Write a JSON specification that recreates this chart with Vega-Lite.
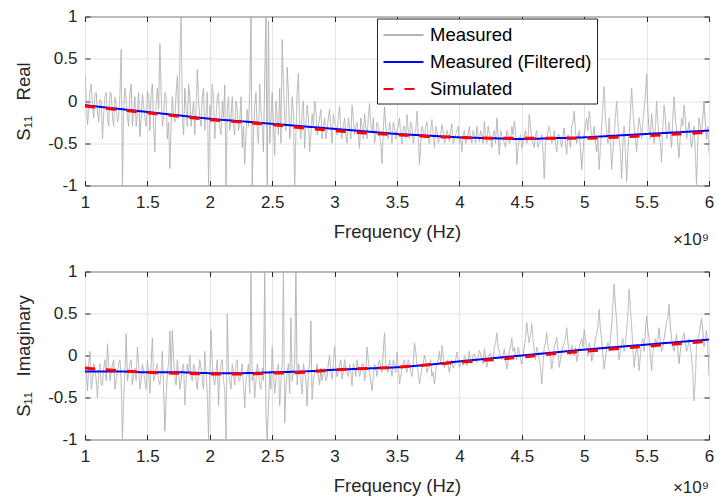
{
"$schema": "https://vega.github.io/schema/vega-lite/v6.json",
"padding": {"left": 14, "top": 6.5, "right": 2, "bottom": 0},
"background": "white",
"bounds": "flush",
"spacing": 86,
"config": {
  "font": "Liberation Sans",
  "view": {"stroke": "#262626", "strokeWidth": 1},
  "axis": {"grid": true, "gridColor": "#e3e3e3", "gridWidth": 1, "domain": false, "tickColor": "#262626", "tickSize": -5, "labelColor": "#262626", "labelFontSize": 17, "titleColor": "#262626", "titleFontSize": 18.5, "titleFontWeight": "normal", "labelFlush": false},
  "axisX": {"labelPadding": 14, "titlePadding": 12},
  "axisY": {"labelPadding": 13, "titlePadding": 14}
},
"resolve": {"scale": {"color": "independent", "strokeDash": "independent"}},
"datasets": {
"reM": [
{"f":1,"Measured":0.3},{"f":1.02,"Measured":-0.28},{"f":1.04,"Measured":0.12},{"f":1.06,"Measured":-0.05},{"f":1.08,"Measured":0.08},
{"f":1.1,"Measured":-0.12},{"f":1.12,"Measured":0.02},{"f":1.14,"Measured":-0.45},{"f":1.16,"Measured":0.05},{"f":1.18,"Measured":-0.2},
{"f":1.2,"Measured":0.1},{"f":1.22,"Measured":-0.18},{"f":1.24,"Measured":0.05},{"f":1.26,"Measured":-0.25},{"f":1.28,"Measured":0.08},
{"f":1.29,"Measured":0.61},{"f":1.3,"Measured":-1},{"f":1.32,"Measured":0.15},{"f":1.34,"Measured":-0.2},{"f":1.36,"Measured":0.1},{"f":1.38,"Measured":-0.3},
{"f":1.4,"Measured":0.05},{"f":1.42,"Measured":-0.15},{"f":1.44,"Measured":-0.42},{"f":1.46,"Measured":0.08},{"f":1.48,"Measured":-0.2},
{"f":1.5,"Measured":0.12},{"f":1.52,"Measured":-0.35},{"f":1.54,"Measured":0.2},{"f":1.56,"Measured":-0.6},{"f":1.58,"Measured":0.15},
{"f":1.6,"Measured":0.68},{"f":1.62,"Measured":-0.3},{"f":1.64,"Measured":0.1},{"f":1.66,"Measured":-0.45},{"f":1.68,"Measured":-0.8},
{"f":1.7,"Measured":0.05},{"f":1.72,"Measured":-0.25},{"f":1.74,"Measured":0.3},{"f":1.76,"Measured":0.5},{"f":1.77,"Measured":1},{"f":1.78,"Measured":-0.2},
{"f":1.8,"Measured":0.15},{"f":1.82,"Measured":-0.3},{"f":1.84,"Measured":0.05},{"f":1.86,"Measured":-0.15},{"f":1.88,"Measured":-0.4},
{"f":1.9,"Measured":0.37},{"f":1.92,"Measured":-0.2},{"f":1.94,"Measured":0.05},{"f":1.96,"Measured":-0.35},{"f":1.98,"Measured":0.1},{"f":1.99,"Measured":-1},
{"f":2,"Measured":-0.05},{"f":2.02,"Measured":0.2},{"f":2.04,"Measured":-0.45},{"f":2.06,"Measured":0.05},{"f":2.08,"Measured":-0.3},
{"f":2.1,"Measured":0},{"f":2.12,"Measured":0.19},{"f":2.13,"Measured":-1},{"f":2.14,"Measured":-0.1},{"f":2.16,"Measured":-0.35},{"f":2.18,"Measured":0.05},
{"f":2.2,"Measured":-0.4},{"f":2.22,"Measured":-0.1},{"f":2.24,"Measured":-0.25},{"f":2.26,"Measured":-0.55},{"f":2.28,"Measured":-0.75},
{"f":2.3,"Measured":-0.1},{"f":2.32,"Measured":0.1},{"f":2.33,"Measured":1},{"f":2.34,"Measured":-1},{"f":2.36,"Measured":-0.05},{"f":2.38,"Measured":-0.35},
{"f":2.4,"Measured":0.2},{"f":2.42,"Measured":-0.3},{"f":2.44,"Measured":0.3},{"f":2.45,"Measured":1},{"f":2.46,"Measured":-1},{"f":2.47,"Measured":0.95},{"f":2.48,"Measured":-0.5},
{"f":2.5,"Measured":0.1},{"f":2.52,"Measured":-0.64},{"f":2.54,"Measured":-0.2},{"f":2.56,"Measured":0.15},{"f":2.57,"Measured":-0.5},{"f":2.58,"Measured":0.73},
{"f":2.6,"Measured":-0.2},{"f":2.62,"Measured":0.4},{"f":2.64,"Measured":-0.45},{"f":2.66,"Measured":0.05},{"f":2.68,"Measured":-1},
{"f":2.7,"Measured":0.1},{"f":2.71,"Measured":0.33},{"f":2.72,"Measured":-0.3},{"f":2.74,"Measured":-0.1},{"f":2.76,"Measured":-0.56},{"f":2.78,"Measured":-0.05},
{"f":2.8,"Measured":-0.6},{"f":2.82,"Measured":-0.15},{"f":2.84,"Measured":0},{"f":2.86,"Measured":-0.4},{"f":2.88,"Measured":-0.2},
{"f":2.9,"Measured":-0.45},{"f":2.92,"Measured":-0.2},{"f":2.94,"Measured":-0.35},{"f":2.96,"Measured":-0.1},{"f":2.98,"Measured":-0.5},
{"f":3,"Measured":-0.25},{"f":3.02,"Measured":-0.4},{"f":3.04,"Measured":-0.06},{"f":3.06,"Measured":-0.45},{"f":3.08,"Measured":-0.2},
{"f":3.1,"Measured":-0.5},{"f":3.12,"Measured":-0.3},{"f":3.14,"Measured":-0.05},{"f":3.16,"Measured":-0.4},{"f":3.18,"Measured":-0.25},
{"f":3.2,"Measured":-0.56},{"f":3.22,"Measured":-0.3},{"f":3.24,"Measured":-0.15},{"f":3.26,"Measured":-0.45},{"f":3.28,"Measured":-0.03},
{"f":3.3,"Measured":-0.35},{"f":3.32,"Measured":-0.5},{"f":3.34,"Measured":-0.25},{"f":3.36,"Measured":-0.4},{"f":3.38,"Measured":-0.74},
{"f":3.4,"Measured":-0.07},{"f":3.42,"Measured":-0.4},{"f":3.44,"Measured":-0.25},{"f":3.46,"Measured":-0.5},{"f":3.48,"Measured":-0.3},
{"f":3.5,"Measured":-0.35},{"f":3.52,"Measured":-0.2},{"f":3.54,"Measured":-0.51},{"f":3.56,"Measured":-0.3},{"f":3.58,"Measured":-0.16},
{"f":3.6,"Measured":-0.45},{"f":3.62,"Measured":-0.3},{"f":3.64,"Measured":-0.4},{"f":3.66,"Measured":-0.12},{"f":3.68,"Measured":-0.75},
{"f":3.7,"Measured":-0.3},{"f":3.72,"Measured":-0.45},{"f":3.74,"Measured":-0.25},{"f":3.76,"Measured":-0.5},{"f":3.78,"Measured":-0.22},
{"f":3.8,"Measured":-0.55},{"f":3.82,"Measured":-0.35},{"f":3.84,"Measured":-0.45},{"f":3.86,"Measured":-0.28},{"f":3.88,"Measured":-0.5},
{"f":3.9,"Measured":-0.35},{"f":3.92,"Measured":-0.48},{"f":3.94,"Measured":-0.27},{"f":3.96,"Measured":-0.45},{"f":3.98,"Measured":-0.35},
{"f":4,"Measured":-0.5},{"f":4.02,"Measured":-0.6},{"f":4.04,"Measured":-0.35},{"f":4.06,"Measured":-0.45},{"f":4.08,"Measured":-0.3},
{"f":4.1,"Measured":-0.5},{"f":4.12,"Measured":-0.4},{"f":4.14,"Measured":-0.3},{"f":4.16,"Measured":-0.48},{"f":4.18,"Measured":-0.4},
{"f":4.2,"Measured":-0.24},{"f":4.22,"Measured":-0.5},{"f":4.24,"Measured":-0.38},{"f":4.26,"Measured":-0.55},{"f":4.28,"Measured":-0.35},
{"f":4.3,"Measured":-0.2},{"f":4.32,"Measured":-0.64},{"f":4.34,"Measured":-0.4},{"f":4.36,"Measured":-0.5},{"f":4.38,"Measured":-0.35},
{"f":4.4,"Measured":-0.5},{"f":4.42,"Measured":-0.3},{"f":4.44,"Measured":-0.24},{"f":4.46,"Measured":-0.75},{"f":4.48,"Measured":-0.45},
{"f":4.5,"Measured":-0.55},{"f":4.52,"Measured":-0.4},{"f":4.54,"Measured":-0.5},{"f":4.56,"Measured":-0.16},{"f":4.58,"Measured":-0.45},
{"f":4.6,"Measured":-0.55},{"f":4.62,"Measured":-0.35},{"f":4.64,"Measured":-0.5},{"f":4.66,"Measured":-0.4},{"f":4.68,"Measured":-0.92},
{"f":4.7,"Measured":-0.45},{"f":4.72,"Measured":-0.3},{"f":4.74,"Measured":-0.5},{"f":4.76,"Measured":-0.35},{"f":4.78,"Measured":-0.6},
{"f":4.8,"Measured":-0.4},{"f":4.82,"Measured":-0.55},{"f":4.84,"Measured":-0.32},{"f":4.86,"Measured":-0.63},{"f":4.88,"Measured":-0.45},
{"f":4.9,"Measured":-0.3},{"f":4.92,"Measured":-0.12},{"f":4.94,"Measured":-0.5},{"f":4.96,"Measured":-0.35},{"f":4.98,"Measured":-0.81},
{"f":5,"Measured":-0.4},{"f":5.02,"Measured":-0.2},{"f":5.04,"Measured":-0.12},{"f":5.06,"Measured":-0.45},{"f":5.08,"Measured":-0.3},
{"f":5.1,"Measured":-0.6},{"f":5.12,"Measured":-0.81},{"f":5.14,"Measured":-0.3},{"f":5.16,"Measured":0.17},{"f":5.18,"Measured":-0.35},
{"f":5.2,"Measured":-0.2},{"f":5.22,"Measured":-0.81},{"f":5.24,"Measured":-0.4},{"f":5.26,"Measured":0},{"f":5.28,"Measured":-0.45},
{"f":5.3,"Measured":-0.92},{"f":5.32,"Measured":-0.3},{"f":5.34,"Measured":-0.95},{"f":5.36,"Measured":-0.4},{"f":5.38,"Measured":0.15},
{"f":5.4,"Measured":-0.3},{"f":5.42,"Measured":-0.6},{"f":5.44,"Measured":-0.2},{"f":5.46,"Measured":-0.45},{"f":5.48,"Measured":-0.1},
{"f":5.5,"Measured":0.32},{"f":5.52,"Measured":-0.35},{"f":5.54,"Measured":-0.15},{"f":5.56,"Measured":-0.5},{"f":5.58,"Measured":0},
{"f":5.6,"Measured":-0.4},{"f":5.62,"Measured":-0.72},{"f":5.64,"Measured":-0.05},{"f":5.66,"Measured":-0.45},{"f":5.68,"Measured":-0.25},
{"f":5.7,"Measured":-0.55},{"f":5.72,"Measured":0.05},{"f":5.74,"Measured":-0.35},{"f":5.76,"Measured":-0.67},{"f":5.78,"Measured":-0.2},
{"f":5.8,"Measured":-0.05},{"f":5.82,"Measured":-0.45},{"f":5.84,"Measured":-0.25},{"f":5.86,"Measured":-0.55},{"f":5.88,"Measured":-0.3},
{"f":5.9,"Measured":-0.99},{"f":5.92,"Measured":-0.2},{"f":5.94,"Measured":-0.4},{"f":5.96,"Measured":0},{"f":5.98,"Measured":-0.45},
{"f":6,"Measured":-0.62},
{"f":1.01,"Measured":0.05},{"f":1.03,"Measured":-0.1},{"f":1.05,"Measured":0.2},{"f":1.07,"Measured":-0.2},{"f":1.09,"Measured":0.1},
{"f":1.11,"Measured":-0.25},{"f":1.13,"Measured":0},{"f":1.15,"Measured":-0.15},{"f":1.17,"Measured":0.1},{"f":1.19,"Measured":-0.3},
{"f":1.21,"Measured":0.09},{"f":1.23,"Measured":-0.3},{"f":1.25,"Measured":-0.05},{"f":1.27,"Measured":-0.2},{"f":1.31,"Measured":-0.1},
{"f":1.33,"Measured":0},{"f":1.35,"Measured":-0.3},{"f":1.37,"Measured":0.2},{"f":1.39,"Measured":-0.1},{"f":1.41,"Measured":-0.3},
{"f":1.43,"Measured":0.1},{"f":1.45,"Measured":-0.2},{"f":1.47,"Measured":-0.05},{"f":1.49,"Measured":-0.3},{"f":1.51,"Measured":0.05},
{"f":1.53,"Measured":0.1},{"f":1.55,"Measured":-0.3},{"f":1.57,"Measured":0},{"f":1.59,"Measured":-0.1},{"f":1.61,"Measured":0.1},
{"f":1.63,"Measured":-0.2},{"f":1.65,"Measured":0.05},{"f":1.67,"Measured":-0.25},{"f":1.69,"Measured":-0.3},{"f":1.71,"Measured":-0.15},
{"f":1.73,"Measured":0.1},{"f":1.75,"Measured":-0.2},{"f":1.79,"Measured":-0.4},{"f":1.81,"Measured":-0.1},{"f":1.83,"Measured":0.2},
{"f":1.85,"Measured":-0.3},{"f":1.87,"Measured":0},{"f":1.89,"Measured":-0.1},{"f":1.91,"Measured":0},{"f":1.93,"Measured":-0.3},
{"f":1.95,"Measured":0.15},{"f":1.97,"Measured":-0.15},{"f":2.01,"Measured":-0.25},{"f":2.03,"Measured":0},{"f":2.05,"Measured":-0.2},
{"f":2.07,"Measured":0.1},{"f":2.09,"Measured":-0.4},{"f":2.11,"Measured":-0.2},{"f":2.15,"Measured":0.05},{"f":2.17,"Measured":-0.2},
{"f":2.19,"Measured":-0.3},{"f":2.21,"Measured":0},{"f":2.23,"Measured":-0.35},{"f":2.25,"Measured":0.05},{"f":2.27,"Measured":-0.3},
{"f":2.29,"Measured":-0.4},{"f":2.31,"Measured":-0.3},{"f":2.35,"Measured":-0.4},{"f":2.37,"Measured":0.1},{"f":2.39,"Measured":-0.5},
{"f":2.41,"Measured":-0.1},{"f":2.43,"Measured":-0.6},{"f":2.49,"Measured":-0.2},{"f":2.51,"Measured":-0.3},{"f":2.53,"Measured":0},
{"f":2.55,"Measured":-0.4},{"f":2.59,"Measured":0.2},{"f":2.61,"Measured":-0.35},{"f":2.63,"Measured":0.1},{"f":2.65,"Measured":-0.3},
{"f":2.67,"Measured":-0.15},{"f":2.69,"Measured":-0.4},{"f":2.73,"Measured":-0.45},{"f":2.75,"Measured":0},{"f":2.77,"Measured":-0.3},
{"f":2.79,"Measured":-0.2},{"f":2.81,"Measured":-0.4},{"f":2.83,"Measured":-0.3},{"f":2.85,"Measured":-0.1},{"f":2.87,"Measured":-0.3},
{"f":2.89,"Measured":-0.1},{"f":2.91,"Measured":-0.3},{"f":2.93,"Measured":-0.45},{"f":2.95,"Measured":-0.2},{"f":2.97,"Measured":-0.3},
{"f":2.99,"Measured":-0.15},{"f":3.01,"Measured":-0.3},{"f":3.03,"Measured":-0.2},{"f":3.05,"Measured":-0.35},{"f":3.07,"Measured":-0.3},
{"f":3.09,"Measured":-0.4},{"f":3.11,"Measured":-0.2},{"f":3.13,"Measured":-0.45},{"f":3.15,"Measured":-0.2},{"f":3.17,"Measured":-0.3},
{"f":3.19,"Measured":-0.4},{"f":3.21,"Measured":-0.2},{"f":3.23,"Measured":-0.45},{"f":3.25,"Measured":-0.3},{"f":3.27,"Measured":-0.2},
{"f":3.29,"Measured":-0.3},{"f":3.31,"Measured":-0.2},{"f":3.33,"Measured":-0.4},{"f":3.35,"Measured":-0.3},{"f":3.37,"Measured":-0.5},
{"f":3.39,"Measured":-0.35},{"f":3.41,"Measured":-0.3},{"f":3.43,"Measured":-0.45},{"f":3.45,"Measured":-0.35},{"f":3.47,"Measured":-0.25},
{"f":3.49,"Measured":-0.45},{"f":3.51,"Measured":-0.3},{"f":3.53,"Measured":-0.4},{"f":3.55,"Measured":-0.3},{"f":3.57,"Measured":-0.45},
{"f":3.59,"Measured":-0.35},{"f":3.61,"Measured":-0.25},{"f":3.63,"Measured":-0.5},{"f":3.65,"Measured":-0.35},{"f":3.67,"Measured":-0.4},
{"f":3.69,"Measured":-0.5},{"f":3.71,"Measured":-0.35},{"f":3.73,"Measured":-0.3},{"f":3.75,"Measured":-0.45},{"f":3.77,"Measured":-0.35},
{"f":3.79,"Measured":-0.4},{"f":3.81,"Measured":-0.3},{"f":3.83,"Measured":-0.5},{"f":3.85,"Measured":-0.4},{"f":3.87,"Measured":-0.35},
{"f":3.89,"Measured":-0.45},{"f":3.91,"Measured":-0.4},{"f":3.93,"Measured":-0.35},{"f":3.95,"Measured":-0.5},{"f":3.97,"Measured":-0.4},
{"f":3.99,"Measured":-0.3},{"f":4.01,"Measured":-0.45},{"f":4.03,"Measured":-0.4},{"f":4.05,"Measured":-0.5},{"f":4.07,"Measured":-0.4},
{"f":4.09,"Measured":-0.45},{"f":4.11,"Measured":-0.35},{"f":4.13,"Measured":-0.5},{"f":4.15,"Measured":-0.4},{"f":4.17,"Measured":-0.35},
{"f":4.19,"Measured":-0.5},{"f":4.21,"Measured":-0.4},{"f":4.23,"Measured":-0.3},{"f":4.25,"Measured":-0.45},{"f":4.27,"Measured":-0.4},
{"f":4.29,"Measured":-0.5},{"f":4.31,"Measured":-0.4},{"f":4.33,"Measured":-0.35},{"f":4.35,"Measured":-0.45},{"f":4.37,"Measured":-0.55},
{"f":4.39,"Measured":-0.4},{"f":4.41,"Measured":-0.45},{"f":4.43,"Measured":-0.4},{"f":4.45,"Measured":-0.35},{"f":4.47,"Measured":-0.55},
{"f":4.49,"Measured":-0.4},{"f":4.51,"Measured":-0.5},{"f":4.53,"Measured":-0.35},{"f":4.55,"Measured":-0.45},{"f":4.57,"Measured":-0.3},
{"f":4.59,"Measured":-0.5},{"f":4.61,"Measured":-0.4},{"f":4.63,"Measured":-0.55},{"f":4.65,"Measured":-0.45},{"f":4.67,"Measured":-0.6},
{"f":4.69,"Measured":-0.5},{"f":4.71,"Measured":-0.35},{"f":4.73,"Measured":-0.4},{"f":4.75,"Measured":-0.45},{"f":4.77,"Measured":-0.5},
{"f":4.79,"Measured":-0.4},{"f":4.81,"Measured":-0.45},{"f":4.83,"Measured":-0.4},{"f":4.85,"Measured":-0.5},{"f":4.87,"Measured":-0.4},
{"f":4.89,"Measured":-0.55},{"f":4.91,"Measured":-0.25},{"f":4.93,"Measured":-0.35},{"f":4.95,"Measured":-0.45},{"f":4.97,"Measured":-0.55},
{"f":4.99,"Measured":-0.6},{"f":5.01,"Measured":-0.3},{"f":5.03,"Measured":-0.35},{"f":5.05,"Measured":-0.25},{"f":5.07,"Measured":-0.4},
{"f":5.09,"Measured":-0.5},{"f":5.11,"Measured":-0.45},{"f":5.13,"Measured":-0.55},{"f":5.15,"Measured":-0.05},{"f":5.17,"Measured":-0.2},
{"f":5.19,"Measured":-0.5},{"f":5.21,"Measured":-0.45},{"f":5.23,"Measured":-0.6},{"f":5.25,"Measured":-0.2},{"f":5.27,"Measured":-0.25},
{"f":5.29,"Measured":-0.6},{"f":5.31,"Measured":-0.5},{"f":5.33,"Measured":-0.6},{"f":5.35,"Measured":-0.6},{"f":5.37,"Measured":-0.15},
{"f":5.39,"Measured":-0.1},{"f":5.41,"Measured":-0.45},{"f":5.43,"Measured":-0.35},{"f":5.45,"Measured":-0.3},{"f":5.47,"Measured":-0.25},
{"f":5.49,"Measured":0.05},{"f":5.51,"Measured":-0.1},{"f":5.53,"Measured":-0.45},{"f":5.55,"Measured":-0.3},{"f":5.57,"Measured":-0.35},
{"f":5.59,"Measured":-0.25},{"f":5.61,"Measured":-0.5},{"f":5.63,"Measured":-0.3},{"f":5.65,"Measured":-0.2},{"f":5.67,"Measured":-0.4},
{"f":5.69,"Measured":-0.4},{"f":5.71,"Measured":-0.2},{"f":5.73,"Measured":-0.2},{"f":5.75,"Measured":-0.5},{"f":5.77,"Measured":-0.4},
{"f":5.79,"Measured":-0.3},{"f":5.81,"Measured":-0.2},{"f":5.83,"Measured":-0.35},{"f":5.85,"Measured":-0.4},{"f":5.87,"Measured":-0.45},
{"f":5.89,"Measured":-0.6},{"f":5.91,"Measured":-0.5},{"f":5.93,"Measured":-0.3},{"f":5.95,"Measured":-0.2},{"f":5.97,"Measured":-0.25},
{"f":5.99,"Measured":-0.3}
],
"imM": [
{"f":1,"Measured":-0.05},{"f":1.02,"Measured":-0.42},{"f":1.04,"Measured":0.05},{"f":1.06,"Measured":-0.3},{"f":1.08,"Measured":-0.15},
{"f":1.1,"Measured":-0.5},{"f":1.12,"Measured":-0.1},{"f":1.14,"Measured":-0.35},{"f":1.16,"Measured":-0.05},{"f":1.18,"Measured":0.14},
{"f":1.2,"Measured":-0.3},{"f":1.22,"Measured":-0.1},{"f":1.24,"Measured":-0.4},{"f":1.26,"Measured":-0.2},{"f":1.28,"Measured":-0.05},
{"f":1.3,"Measured":-1},{"f":1.32,"Measured":-0.2},{"f":1.33,"Measured":0.26},{"f":1.34,"Measured":-0.3},{"f":1.36,"Measured":-0.1},{"f":1.38,"Measured":-0.35},
{"f":1.4,"Measured":-0.15},{"f":1.42,"Measured":0.1},{"f":1.44,"Measured":-0.4},{"f":1.46,"Measured":-0.1},{"f":1.48,"Measured":-0.3},
{"f":1.5,"Measured":-0.05},{"f":1.52,"Measured":-0.45},{"f":1.54,"Measured":0.21},{"f":1.56,"Measured":-0.25},{"f":1.58,"Measured":-0.1},
{"f":1.6,"Measured":-0.35},{"f":1.62,"Measured":0.05},{"f":1.64,"Measured":-0.9},{"f":1.66,"Measured":-0.2},{"f":1.68,"Measured":0.29},
{"f":1.7,"Measured":0.3},{"f":1.72,"Measured":-0.25},{"f":1.74,"Measured":-0.05},{"f":1.76,"Measured":-0.4},{"f":1.78,"Measured":-0.15},
{"f":1.8,"Measured":-0.59},{"f":1.82,"Measured":-0.1},{"f":1.84,"Measured":0},{"f":1.86,"Measured":-0.3},{"f":1.88,"Measured":-0.15},
{"f":1.9,"Measured":-0.4},{"f":1.92,"Measured":-0.05},{"f":1.94,"Measured":-0.3},{"f":1.96,"Measured":0.05},{"f":1.98,"Measured":-0.45},{"f":1.99,"Measured":-1},
{"f":2,"Measured":-0.2},{"f":2.01,"Measured":0.3},{"f":2.02,"Measured":-0.1},{"f":2.04,"Measured":-0.35},{"f":2.06,"Measured":-0.05},{"f":2.07,"Measured":-0.6},{"f":2.08,"Measured":-0.25},
{"f":2.1,"Measured":-0.05},{"f":2.12,"Measured":-0.4},{"f":2.13,"Measured":-1},{"f":2.14,"Measured":0.49},{"f":2.16,"Measured":-0.3},{"f":2.18,"Measured":-0.1},
{"f":2.2,"Measured":-0.35},{"f":2.22,"Measured":-0.05},{"f":2.24,"Measured":-0.3},{"f":2.26,"Measured":-0.1},{"f":2.28,"Measured":-0.62},
{"f":2.3,"Measured":-0.2},{"f":2.32,"Measured":-0.45},{"f":2.33,"Measured":1},{"f":2.34,"Measured":-0.3},{"f":2.36,"Measured":-0.5},{"f":2.38,"Measured":-0.1},
{"f":2.4,"Measured":-0.35},{"f":2.42,"Measured":-0.15},{"f":2.44,"Measured":1},{"f":2.45,"Measured":-0.7},{"f":2.46,"Measured":-1},{"f":2.47,"Measured":-0.6},{"f":2.48,"Measured":-0.2},
{"f":2.5,"Measured":0.1},{"f":2.52,"Measured":-0.45},{"f":2.54,"Measured":-0.15},{"f":2.56,"Measured":-0.6},{"f":2.58,"Measured":-0.1},{"f":2.59,"Measured":1},
{"f":2.6,"Measured":-0.8},{"f":2.62,"Measured":-0.2},{"f":2.64,"Measured":-0.45},{"f":2.65,"Measured":0.45},{"f":2.66,"Measured":-0.3},{"f":2.68,"Measured":-0.1},{"f":2.69,"Measured":1},
{"f":2.7,"Measured":-0.35},{"f":2.72,"Measured":-0.15},{"f":2.74,"Measured":-0.46},{"f":2.76,"Measured":-0.2},{"f":2.78,"Measured":-0.6},
{"f":2.8,"Measured":-0.1},{"f":2.81,"Measured":0.41},{"f":2.82,"Measured":-0.52},{"f":2.84,"Measured":-0.2},{"f":2.86,"Measured":-0.1},{"f":2.88,"Measured":-0.35},
{"f":2.9,"Measured":-0.3},{"f":2.92,"Measured":-0.15},{"f":2.94,"Measured":-0.25},{"f":2.96,"Measured":0},{"f":2.98,"Measured":-0.28},
{"f":3,"Measured":0.11},{"f":3.02,"Measured":-0.25},{"f":3.04,"Measured":-0.1},{"f":3.06,"Measured":-0.28},{"f":3.08,"Measured":-0.05},
{"f":3.1,"Measured":-0.2},{"f":3.12,"Measured":-0.1},{"f":3.14,"Measured":-0.36},{"f":3.16,"Measured":-0.15},{"f":3.18,"Measured":-0.05},
{"f":3.2,"Measured":-0.25},{"f":3.22,"Measured":-0.1},{"f":3.24,"Measured":-0.3},{"f":3.26,"Measured":0.1},{"f":3.28,"Measured":-0.2},
{"f":3.3,"Measured":-0.42},{"f":3.32,"Measured":-0.1},{"f":3.34,"Measured":-0.25},{"f":3.36,"Measured":-0.05},{"f":3.38,"Measured":-0.2},
{"f":3.4,"Measured":0.27},{"f":3.42,"Measured":-0.15},{"f":3.44,"Measured":-0.05},{"f":3.46,"Measured":-0.25},{"f":3.48,"Measured":-0.1},
{"f":3.5,"Measured":0.04},{"f":3.52,"Measured":-0.34},{"f":3.54,"Measured":-0.15},{"f":3.56,"Measured":-0.05},{"f":3.58,"Measured":-0.2},
{"f":3.6,"Measured":-0.1},{"f":3.62,"Measured":-0.25},{"f":3.64,"Measured":0.15},{"f":3.66,"Measured":-0.1},{"f":3.68,"Measured":-0.34},
{"f":3.7,"Measured":-0.15},{"f":3.72,"Measured":0},{"f":3.74,"Measured":-0.2},{"f":3.76,"Measured":-0.1},{"f":3.78,"Measured":-0.25},
{"f":3.8,"Measured":-0.34},{"f":3.82,"Measured":-0.1},{"f":3.84,"Measured":0.05},{"f":3.86,"Measured":0.12},{"f":3.88,"Measured":-0.15},
{"f":3.9,"Measured":-0.05},{"f":3.92,"Measured":-0.2},{"f":3.94,"Measured":-0.05},{"f":3.96,"Measured":-0.12},{"f":3.98,"Measured":0.04},
{"f":4,"Measured":-0.14},{"f":4.02,"Measured":-0.05},{"f":4.04,"Measured":0},{"f":4.06,"Measured":-0.12},{"f":4.08,"Measured":0.05},
{"f":4.1,"Measured":-0.1},{"f":4.12,"Measured":0.02},{"f":4.14,"Measured":-0.08},{"f":4.16,"Measured":0.06},{"f":4.18,"Measured":-0.05},
{"f":4.2,"Measured":0.08},{"f":4.22,"Measured":-0.14},{"f":4.24,"Measured":0.02},{"f":4.26,"Measured":-0.05},{"f":4.28,"Measured":0.1},
{"f":4.3,"Measured":0.27},{"f":4.32,"Measured":0.05},{"f":4.34,"Measured":-0.05},{"f":4.36,"Measured":0.08},{"f":4.38,"Measured":-0.16},
{"f":4.4,"Measured":0.05},{"f":4.42,"Measured":0.21},{"f":4.44,"Measured":0.1},{"f":4.46,"Measured":-0.05},{"f":4.48,"Measured":0.05},
{"f":4.5,"Measured":-0.1},{"f":4.52,"Measured":0.1},{"f":4.54,"Measured":0.39},{"f":4.56,"Measured":0.15},{"f":4.58,"Measured":0.38},
{"f":4.6,"Measured":0.05},{"f":4.62,"Measured":0.1},{"f":4.64,"Measured":-0.05},{"f":4.66,"Measured":-0.34},{"f":4.68,"Measured":0.1},
{"f":4.7,"Measured":0.27},{"f":4.72,"Measured":0.05},{"f":4.74,"Measured":-0.16},{"f":4.76,"Measured":0.1},{"f":4.78,"Measured":0.22},
{"f":4.8,"Measured":-0.14},{"f":4.82,"Measured":0.05},{"f":4.84,"Measured":0.15},{"f":4.86,"Measured":0.33},{"f":4.88,"Measured":0.05},
{"f":4.9,"Measured":0.12},{"f":4.92,"Measured":0},{"f":4.94,"Measured":-0.07},{"f":4.96,"Measured":0.1},{"f":4.98,"Measured":0.2},
{"f":5,"Measured":0.31},{"f":5.02,"Measured":0.1},{"f":5.04,"Measured":0.15},{"f":5.06,"Measured":-0.07},{"f":5.08,"Measured":0.1},
{"f":5.1,"Measured":0.25},{"f":5.12,"Measured":0.55},{"f":5.14,"Measured":0.2},{"f":5.16,"Measured":-0.16},{"f":5.18,"Measured":0.1},
{"f":5.2,"Measured":0.05},{"f":5.22,"Measured":0.35},{"f":5.24,"Measured":0.85},{"f":5.26,"Measured":0.4},{"f":5.28,"Measured":-0.05},
{"f":5.3,"Measured":0.15},{"f":5.32,"Measured":0.05},{"f":5.34,"Measured":0.3},{"f":5.36,"Measured":0.79},{"f":5.38,"Measured":0.35},
{"f":5.4,"Measured":-0.14},{"f":5.42,"Measured":0.1},{"f":5.44,"Measured":-0.18},{"f":5.46,"Measured":0.15},{"f":5.48,"Measured":0.05},
{"f":5.5,"Measured":0.47},{"f":5.52,"Measured":0.2},{"f":5.54,"Measured":-0.18},{"f":5.56,"Measured":0.1},{"f":5.58,"Measured":0.15},
{"f":5.6,"Measured":0.33},{"f":5.62,"Measured":0.05},{"f":5.64,"Measured":0.2},{"f":5.66,"Measured":0.4},{"f":5.68,"Measured":0.61},
{"f":5.7,"Measured":0.2},{"f":5.72,"Measured":0.05},{"f":5.74,"Measured":0.25},{"f":5.76,"Measured":-0.1},{"f":5.78,"Measured":0.15},
{"f":5.8,"Measured":0.27},{"f":5.82,"Measured":0.05},{"f":5.84,"Measured":0.2},{"f":5.86,"Measured":0},{"f":5.88,"Measured":-0.54},
{"f":5.9,"Measured":0.1},{"f":5.92,"Measured":0.25},{"f":5.94,"Measured":0.44},{"f":5.96,"Measured":0.1},{"f":5.98,"Measured":0.3},
{"f":6,"Measured":-0.24},
{"f":1.01,"Measured":-0.2},{"f":1.03,"Measured":-0.1},{"f":1.05,"Measured":-0.4},{"f":1.07,"Measured":-0.1},{"f":1.09,"Measured":-0.3},
{"f":1.11,"Measured":-0.2},{"f":1.13,"Measured":-0.35},{"f":1.15,"Measured":-0.15},{"f":1.17,"Measured":-0.3},{"f":1.19,"Measured":-0.1},
{"f":1.21,"Measured":-0.2},{"f":1.23,"Measured":-0.05},{"f":1.25,"Measured":-0.3},{"f":1.27,"Measured":-0.1},{"f":1.29,"Measured":-0.3},
{"f":1.31,"Measured":-0.5},{"f":1.35,"Measured":-0.2},{"f":1.37,"Measured":-0.05},{"f":1.39,"Measured":-0.2},{"f":1.41,"Measured":-0.3},
{"f":1.43,"Measured":-0.1},{"f":1.45,"Measured":-0.3},{"f":1.47,"Measured":-0.2},{"f":1.49,"Measured":-0.4},{"f":1.51,"Measured":-0.2},
{"f":1.53,"Measured":-0.1},{"f":1.55,"Measured":-0.3},{"f":1.57,"Measured":-0.15},{"f":1.59,"Measured":-0.3},{"f":1.61,"Measured":-0.2},
{"f":1.63,"Measured":-0.4},{"f":1.65,"Measured":-0.5},{"f":1.67,"Measured":-0.1},{"f":1.69,"Measured":-0.2},{"f":1.71,"Measured":-0.05},
{"f":1.73,"Measured":-0.35},{"f":1.75,"Measured":-0.2},{"f":1.77,"Measured":-0.3},{"f":1.79,"Measured":-0.1},{"f":1.81,"Measured":-0.3},
{"f":1.83,"Measured":-0.2},{"f":1.85,"Measured":-0.25},{"f":1.87,"Measured":-0.1},{"f":1.89,"Measured":-0.3},{"f":1.91,"Measured":-0.2},
{"f":1.93,"Measured":-0.15},{"f":1.95,"Measured":-0.4},{"f":1.97,"Measured":-0.2},{"f":2.03,"Measured":-0.3},{"f":2.05,"Measured":-0.2},
{"f":2.09,"Measured":-0.1},{"f":2.11,"Measured":-0.3},{"f":2.15,"Measured":-0.2},{"f":2.17,"Measured":-0.4},{"f":2.19,"Measured":-0.2},
{"f":2.21,"Measured":-0.1},{"f":2.23,"Measured":-0.3},{"f":2.25,"Measured":-0.2},{"f":2.27,"Measured":-0.35},{"f":2.29,"Measured":-0.3},
{"f":2.31,"Measured":-0.1},{"f":2.35,"Measured":-0.2},{"f":2.37,"Measured":-0.3},{"f":2.39,"Measured":-0.2},{"f":2.41,"Measured":-0.4},
{"f":2.43,"Measured":-0.3},{"f":2.49,"Measured":-0.4},{"f":2.51,"Measured":-0.2},{"f":2.53,"Measured":-0.3},{"f":2.55,"Measured":-0.1},
{"f":2.57,"Measured":-0.3},{"f":2.61,"Measured":-0.4},{"f":2.63,"Measured":-0.1},{"f":2.67,"Measured":-0.2},{"f":2.71,"Measured":-0.1},
{"f":2.73,"Measured":-0.3},{"f":2.75,"Measured":-0.1},{"f":2.77,"Measured":-0.3},{"f":2.79,"Measured":-0.2},{"f":2.83,"Measured":-0.3},
{"f":2.85,"Measured":-0.2},{"f":2.87,"Measured":-0.25},{"f":2.89,"Measured":-0.15},{"f":2.91,"Measured":-0.2},{"f":2.93,"Measured":-0.3},
{"f":2.95,"Measured":-0.1},{"f":2.97,"Measured":-0.2},{"f":2.99,"Measured":-0.1},{"f":3.01,"Measured":-0.15},{"f":3.03,"Measured":-0.2},
{"f":3.05,"Measured":-0.05},{"f":3.07,"Measured":-0.2},{"f":3.09,"Measured":-0.15},{"f":3.11,"Measured":-0.25},{"f":3.13,"Measured":-0.2},
{"f":3.15,"Measured":-0.1},{"f":3.17,"Measured":-0.25},{"f":3.19,"Measured":-0.15},{"f":3.21,"Measured":-0.2},{"f":3.23,"Measured":-0.1},
{"f":3.25,"Measured":-0.2},{"f":3.27,"Measured":-0.05},{"f":3.29,"Measured":-0.3},{"f":3.31,"Measured":-0.25},{"f":3.33,"Measured":-0.15},
{"f":3.35,"Measured":-0.1},{"f":3.37,"Measured":-0.15},{"f":3.39,"Measured":0.05},{"f":3.41,"Measured":-0.1},{"f":3.43,"Measured":-0.2},
{"f":3.45,"Measured":-0.15},{"f":3.47,"Measured":-0.05},{"f":3.49,"Measured":-0.2},{"f":3.51,"Measured":-0.1},{"f":3.53,"Measured":-0.25},
{"f":3.55,"Measured":-0.1},{"f":3.57,"Measured":-0.15},{"f":3.59,"Measured":-0.05},{"f":3.61,"Measured":-0.2},{"f":3.63,"Measured":-0.1},
{"f":3.65,"Measured":0.05},{"f":3.67,"Measured":-0.2},{"f":3.69,"Measured":-0.25},{"f":3.71,"Measured":-0.1},{"f":3.73,"Measured":-0.05},
{"f":3.75,"Measured":-0.15},{"f":3.77,"Measured":-0.05},{"f":3.79,"Measured":-0.2},{"f":3.81,"Measured":-0.2},{"f":3.83,"Measured":-0.05},
{"f":3.85,"Measured":-0.1},{"f":3.87,"Measured":0},{"f":3.89,"Measured":-0.1},{"f":3.91,"Measured":-0.12},{"f":3.93,"Measured":-0.1},
{"f":3.95,"Measured":-0.15},{"f":3.97,"Measured":-0.05},{"f":3.99,"Measured":-0.05},{"f":4.01,"Measured":-0.1},{"f":4.03,"Measured":-0.12},
{"f":4.05,"Measured":-0.03},{"f":4.07,"Measured":-0.05},{"f":4.09,"Measured":-0.08},{"f":4.11,"Measured":0},{"f":4.13,"Measured":-0.05},
{"f":4.15,"Measured":-0.02},{"f":4.17,"Measured":0.02},{"f":4.19,"Measured":-0.1},{"f":4.21,"Measured":-0.02},{"f":4.23,"Measured":-0.05},
{"f":4.25,"Measured":0.03},{"f":4.27,"Measured":-0.08},{"f":4.29,"Measured":0.15},{"f":4.31,"Measured":0.1},{"f":4.33,"Measured":-0.02},
{"f":4.35,"Measured":0},{"f":4.37,"Measured":-0.05},{"f":4.39,"Measured":-0.05},{"f":4.41,"Measured":0.1},{"f":4.43,"Measured":0.05},
{"f":4.45,"Measured":0},{"f":4.47,"Measured":0.1},{"f":4.49,"Measured":-0.05},{"f":4.51,"Measured":0},{"f":4.53,"Measured":0.2},
{"f":4.55,"Measured":0.25},{"f":4.57,"Measured":0.25},{"f":4.59,"Measured":0.2},{"f":4.61,"Measured":-0.05},{"f":4.63,"Measured":0.05},
{"f":4.65,"Measured":-0.15},{"f":4.67,"Measured":-0.1},{"f":4.69,"Measured":0.15},{"f":4.71,"Measured":0.1},{"f":4.73,"Measured":0},
{"f":4.75,"Measured":-0.05},{"f":4.77,"Measured":0.15},{"f":4.79,"Measured":0.05},{"f":4.81,"Measured":-0.05},{"f":4.83,"Measured":0.1},
{"f":4.85,"Measured":0.2},{"f":4.87,"Measured":0.15},{"f":4.89,"Measured":0},{"f":4.91,"Measured":0.05},{"f":4.93,"Measured":0.1},
{"f":4.95,"Measured":0},{"f":4.97,"Measured":0.15},{"f":4.99,"Measured":0.1},{"f":5.01,"Measured":0.2},{"f":5.03,"Measured":0},
{"f":5.05,"Measured":0.1},{"f":5.07,"Measured":0},{"f":5.09,"Measured":0.2},{"f":5.11,"Measured":0.35},{"f":5.13,"Measured":0.3},
{"f":5.15,"Measured":0},{"f":5.17,"Measured":-0.05},{"f":5.19,"Measured":0.15},{"f":5.21,"Measured":0.2},{"f":5.23,"Measured":0.6},
{"f":5.25,"Measured":0.6},{"f":5.27,"Measured":0.1},{"f":5.29,"Measured":0.05},{"f":5.31,"Measured":0.2},{"f":5.33,"Measured":0.15},
{"f":5.35,"Measured":0.5},{"f":5.37,"Measured":0.55},{"f":5.39,"Measured":0.1},{"f":5.41,"Measured":0},{"f":5.43,"Measured":0.05},
{"f":5.45,"Measured":0},{"f":5.47,"Measured":0.2},{"f":5.49,"Measured":0.3},{"f":5.51,"Measured":0.3},{"f":5.53,"Measured":0},
{"f":5.55,"Measured":0.05},{"f":5.57,"Measured":0.2},{"f":5.59,"Measured":0.2},{"f":5.61,"Measured":0.15},{"f":5.63,"Measured":0.1},
{"f":5.65,"Measured":0.3},{"f":5.67,"Measured":0.45},{"f":5.69,"Measured":0.35},{"f":5.71,"Measured":0.1},{"f":5.73,"Measured":0.15},
{"f":5.75,"Measured":0.05},{"f":5.77,"Measured":0.05},{"f":5.79,"Measured":0.2},{"f":5.81,"Measured":0.15},{"f":5.83,"Measured":0.1},
{"f":5.85,"Measured":0.1},{"f":5.87,"Measured":-0.2},{"f":5.89,"Measured":-0.3},{"f":5.91,"Measured":0.2},{"f":5.93,"Measured":0.35},
{"f":5.95,"Measured":0.3},{"f":5.97,"Measured":0.2},{"f":5.99,"Measured":0.1}
],
"reF": [
{"f":1,"Measured (Filtered)":-0.05,"Simulated":-0.06},{"f":1.25,"Measured (Filtered)":-0.09,"Simulated":-0.1},
{"f":1.5,"Measured (Filtered)":-0.13,"Simulated":-0.14},{"f":1.75,"Measured (Filtered)":-0.17,"Simulated":-0.18},
{"f":2,"Measured (Filtered)":-0.21,"Simulated":-0.22},{"f":2.25,"Measured (Filtered)":-0.24,"Simulated":-0.25},
{"f":2.5,"Measured (Filtered)":-0.27,"Simulated":-0.28},{"f":2.75,"Measured (Filtered)":-0.3,"Simulated":-0.32},
{"f":3,"Measured (Filtered)":-0.33,"Simulated":-0.35},{"f":3.25,"Measured (Filtered)":-0.36,"Simulated":-0.38},
{"f":3.5,"Measured (Filtered)":-0.39,"Simulated":-0.4},{"f":3.75,"Measured (Filtered)":-0.41,"Simulated":-0.42},
{"f":4,"Measured (Filtered)":-0.43,"Simulated":-0.43},{"f":4.25,"Measured (Filtered)":-0.44,"Simulated":-0.44},
{"f":4.5,"Measured (Filtered)":-0.45,"Simulated":-0.44},{"f":4.75,"Measured (Filtered)":-0.44,"Simulated":-0.44},
{"f":5,"Measured (Filtered)":-0.43,"Simulated":-0.44},{"f":5.25,"Measured (Filtered)":-0.41,"Simulated":-0.43},
{"f":5.5,"Measured (Filtered)":-0.39,"Simulated":-0.41},{"f":5.75,"Measured (Filtered)":-0.37,"Simulated":-0.39},
{"f":6,"Measured (Filtered)":-0.35,"Simulated":-0.37}
],
"imF": [
{"f":1,"Measured (Filtered)":-0.19,"Simulated":-0.15},{"f":1.25,"Measured (Filtered)":-0.19,"Simulated":-0.18},
{"f":1.5,"Measured (Filtered)":-0.2,"Simulated":-0.2},{"f":1.75,"Measured (Filtered)":-0.2,"Simulated":-0.21},
{"f":2,"Measured (Filtered)":-0.21,"Simulated":-0.22},{"f":2.25,"Measured (Filtered)":-0.21,"Simulated":-0.22},
{"f":2.5,"Measured (Filtered)":-0.2,"Simulated":-0.21},{"f":2.75,"Measured (Filtered)":-0.19,"Simulated":-0.2},
{"f":3,"Measured (Filtered)":-0.17,"Simulated":-0.17},{"f":3.25,"Measured (Filtered)":-0.155,"Simulated":-0.155},
{"f":3.5,"Measured (Filtered)":-0.14,"Simulated":-0.14},{"f":3.75,"Measured (Filtered)":-0.11,"Simulated":-0.11},
{"f":4,"Measured (Filtered)":-0.07,"Simulated":-0.08},{"f":4.25,"Measured (Filtered)":-0.035,"Simulated":-0.05},
{"f":4.5,"Measured (Filtered)":0,"Simulated":-0.02},{"f":4.75,"Measured (Filtered)":0.035,"Simulated":0.02},
{"f":5,"Measured (Filtered)":0.07,"Simulated":0.05},{"f":5.25,"Measured (Filtered)":0.1,"Simulated":0.08},
{"f":5.5,"Measured (Filtered)":0.13,"Simulated":0.11},{"f":5.75,"Measured (Filtered)":0.16,"Simulated":0.14},
{"f":6,"Measured (Filtered)":0.19,"Simulated":0.17}
]
},
"vconcat": [
{
"width": 624, "height": 169,
"resolve": {"axis": {"x": "independent", "y": "independent"}},
"layer": [
{"data": {"name": "reM"}, "transform": [{"fold": ["Measured"], "as": ["s", "v"]}],
 "mark": {"type": "line", "clip": true, "strokeWidth": 1},
 "encoding": {
  "x": {"field": "f", "type": "quantitative", "scale": {"domain": [1, 6], "nice": false, "zero": false}, "axis": {"orient": "bottom", "title": "Frequency (Hz)", "values": [1, 1.5, 2, 2.5, 3, 3.5, 4, 4.5, 5, 5.5, 6], "labelExpr": "'' + datum.value"}},
  "y": {"field": "v", "type": "quantitative", "scale": {"domain": [-1, 1], "nice": false, "zero": false}, "axis": {"orient": "left", "title": "S₁₁\u00a0\u00a0\u00a0Real", "values": [-1, -0.5, 0, 0.5, 1], "labelExpr": "'' + datum.value"}},
  "color": {"field": "s", "type": "nominal", "scale": {"domain": ["Measured", "Measured (Filtered)", "Simulated"], "range": ["#b3b3b3", "#0000ff", "#ff0000"]}, "legend": {"title": null, "orient": "none", "legendX": 292, "legendY": 2, "symbolType": "M-1,0H3", "symbolSize": 400, "symbolStrokeWidth": 2.2, "labelFontSize": 18.5, "labelColor": "black", "labelOffset": 25, "labelLimit": 400, "rowPadding": 6, "padding": 5, "strokeColor": "#262626", "fillColor": "white"}},
  "strokeDash": {"field": "s", "type": "nominal", "scale": {"domain": ["Measured", "Measured (Filtered)", "Simulated"], "range": [[1, 0], [1, 0], [10, 11]]}, "legend": {"title": null, "orient": "none", "legendX": 292, "legendY": 2}}
 }},
{"data": {"name": "reF"}, "transform": [{"fold": ["Measured (Filtered)"], "as": ["s", "v"]}],
 "mark": {"type": "line", "interpolate": "monotone", "clip": true, "strokeWidth": 2},
 "encoding": {
  "x": {"field": "f", "type": "quantitative", "axis": {"orient": "top", "labels": false, "title": null, "grid": false, "values": [1, 1.5, 2, 2.5, 3, 3.5, 4, 4.5, 5, 5.5, 6]}},
  "y": {"field": "v", "type": "quantitative", "axis": {"orient": "right", "labels": false, "title": null, "grid": false, "values": [-1, -0.5, 0, 0.5, 1]}},
  "color": {"field": "s", "type": "nominal"},
  "strokeDash": {"field": "s", "type": "nominal"}
 }},
{"data": {"name": "reF"}, "transform": [{"fold": ["Simulated"], "as": ["s", "v"]}],
 "mark": {"type": "line", "interpolate": "monotone", "clip": true, "strokeWidth": 3},
 "encoding": {
  "x": {"field": "f", "type": "quantitative", "axis": null},
  "y": {"field": "v", "type": "quantitative", "axis": null},
  "color": {"field": "s", "type": "nominal"},
  "strokeDash": {"field": "s", "type": "nominal"}
 }},
{"data": {"values": [{"t": "×10⁹"}]},
 "mark": {"type": "text", "align": "right", "baseline": "alphabetic", "dy": 59, "fontSize": 17, "color": "#262626"},
 "encoding": {
  "x": {"datum": 6, "type": "quantitative", "axis": null},
  "y": {"datum": -1, "type": "quantitative", "axis": null},
  "text": {"field": "t", "type": "nominal"}
 }}
]
},
{
"width": 624, "height": 168,
"resolve": {"axis": {"x": "independent", "y": "independent"}},
"layer": [
{"data": {"name": "imM"}, "transform": [{"fold": ["Measured"], "as": ["s", "v"]}],
 "mark": {"type": "line", "clip": true, "strokeWidth": 1},
 "encoding": {
  "x": {"field": "f", "type": "quantitative", "scale": {"domain": [1, 6], "nice": false, "zero": false}, "axis": {"orient": "bottom", "title": "Frequency (Hz)", "values": [1, 1.5, 2, 2.5, 3, 3.5, 4, 4.5, 5, 5.5, 6], "labelExpr": "'' + datum.value"}},
  "y": {"field": "v", "type": "quantitative", "scale": {"domain": [-1, 1], "nice": false, "zero": false}, "axis": {"orient": "left", "title": "S₁₁\u00a0\u00a0\u00a0Imaginary", "values": [-1, -0.5, 0, 0.5, 1], "labelExpr": "'' + datum.value"}},
  "color": {"field": "s", "type": "nominal", "scale": {"domain": ["Measured", "Measured (Filtered)", "Simulated"], "range": ["#b3b3b3", "#0000ff", "#ff0000"]}, "legend": null},
  "strokeDash": {"field": "s", "type": "nominal", "scale": {"domain": ["Measured", "Measured (Filtered)", "Simulated"], "range": [[1, 0], [1, 0], [10, 11]]}, "legend": null}
 }},
{"data": {"name": "imF"}, "transform": [{"fold": ["Measured (Filtered)"], "as": ["s", "v"]}],
 "mark": {"type": "line", "interpolate": "monotone", "clip": true, "strokeWidth": 2},
 "encoding": {
  "x": {"field": "f", "type": "quantitative", "axis": {"orient": "top", "labels": false, "title": null, "grid": false, "values": [1, 1.5, 2, 2.5, 3, 3.5, 4, 4.5, 5, 5.5, 6]}},
  "y": {"field": "v", "type": "quantitative", "axis": {"orient": "right", "labels": false, "title": null, "grid": false, "values": [-1, -0.5, 0, 0.5, 1]}},
  "color": {"field": "s", "type": "nominal", "legend": null},
  "strokeDash": {"field": "s", "type": "nominal", "legend": null}
 }},
{"data": {"name": "imF"}, "transform": [{"fold": ["Simulated"], "as": ["s", "v"]}],
 "mark": {"type": "line", "interpolate": "monotone", "clip": true, "strokeWidth": 3},
 "encoding": {
  "x": {"field": "f", "type": "quantitative", "axis": null},
  "y": {"field": "v", "type": "quantitative", "axis": null},
  "color": {"field": "s", "type": "nominal", "legend": null},
  "strokeDash": {"field": "s", "type": "nominal", "legend": null}
 }},
{"data": {"values": [{"t": "×10⁹"}]},
 "mark": {"type": "text", "align": "right", "baseline": "alphabetic", "dy": 53, "fontSize": 17, "color": "#262626"},
 "encoding": {
  "x": {"datum": 6, "type": "quantitative", "axis": null},
  "y": {"datum": -1, "type": "quantitative", "axis": null},
  "text": {"field": "t", "type": "nominal"}
 }}
]
}
]
}
